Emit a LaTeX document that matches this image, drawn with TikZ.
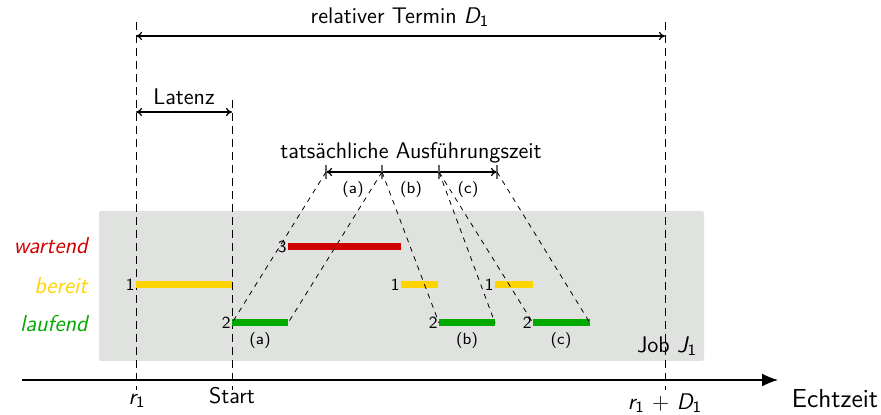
\documentclass[tikz,border=0pt]{standalone}
\usetikzlibrary{arrows.meta}
\definecolor{wred}{RGB}{208,0,0}
\definecolor{byellow}{RGB}{255,212,0}
\definecolor{lgreen}{RGB}{0,170,0}
\definecolor{boxgray}{RGB}{223,226,223}
\newcommand{\myidx}[2]{{\itshape #1}\textsubscript{#2}}
\begin{document}
\begin{tikzpicture}[x=0.5pt,y=-0.5pt,
  font=\sffamily\fontsize{11.3}{13}\selectfont,
  vdash/.style={dash pattern=on 4pt off 2.5pt, line width=0.5pt},
  ddash/.style={dash pattern=on 2.5pt off 2.5pt, line width=0.4pt},
  barline/.style={line width=3.5pt},
  small/.style={font=\sffamily\fontsize{8}{9}\selectfont},
  numlab/.style={font=\sffamily\fontsize{8.5}{9}\selectfont, anchor=east, inner sep=0.5pt},
  ticks/.style={black!60, line width=0.6pt},
  dim/.style={{To[length=3pt,width=4pt]}-{To[length=3pt,width=4pt]}, line width=0.6pt},
  state/.style={anchor=east, inner sep=0pt, font=\sffamily\itshape\fontsize{11.5}{13}\selectfont}]
\useasboundingbox (0,0) rectangle (881,415);
\fill[boxgray, rounded corners=1pt] (99,211) rectangle (704,361);

% key coordinates
\coordinate (r1top) at (136,22);
\coordinate (r1bot) at (136,390);
\coordinate (sttop) at (232,100);
\coordinate (stbot) at (232,390);
\coordinate (dtop) at (665,22);
\coordinate (dbot) at (665,390);
\coordinate (axL) at (22,380);
\coordinate (axR) at (778,380);

% vertical dashed lines
\draw[vdash] (r1top) -- (r1bot);
\draw[vdash] (sttop) -- (stbot);
\draw[vdash] (dtop) -- (dbot);

% time axis
\draw[line width=0.7pt, -{Latex[length=8pt,width=6.5pt]}] (axL) -- (axR);
\node (echt) at (835,399) {\fontsize{13}{15}\selectfont Echtzeit};
\node[anchor=north, inner sep=1pt] (lr1) at (137,392) {\myidx{r}{1}};
\node[anchor=north, inner sep=1pt] (lstart) at (232,385) {Start};
\node[anchor=north, inner sep=1pt] (lrd) at (665,391) {\myidx{r}{1} + \myidx{D}{1}};

% relativer Termin
\coordinate (tL) at (136,36);
\coordinate (tR) at (665,36);
\draw[dim] (tL) -- (tR);
\node (ltermin) at (400,17) {relativer Termin \myidx{D}{1}};

% Latenz
\coordinate (lL) at (136,112);
\coordinate (lR) at (232,112);
\draw[dim] (lL) -- (lR);
\node (llat) at (184,97) {Latenz};

% execution time
\coordinate (e0) at (326,172);
\coordinate (e1) at (382,172);
\coordinate (e2) at (439,172);
\coordinate (e3) at (497,172);
\draw[dim] (e0) -- (e3);
\foreach \p in {e0,e1,e2,e3} \draw[ticks] ([yshift=-3.5pt]\p) -- ([yshift=3.5pt]\p);
\node (lexec) at (411,153) {tatsächliche Ausführungszeit};
\node[small] (la) at (353,190) {(a)};
\node[small] (lb) at (411,190) {(b)};
\node[small] (lc) at (468,190) {(c)};

% state labels
\node[state, text=wred] (swart) at (88,246) {wartend};
\node[state, text=byellow] (sber) at (88,286) {bereit};
\node[state, text=lgreen] (slauf) at (88,324) {laufend};

% bars
\coordinate (y1a) at (136,285); \coordinate (y1b) at (232,285);
\coordinate (g1a) at (232,323); \coordinate (g1b) at (288,323);
\coordinate (r1a) at (288,247); \coordinate (r1b) at (401,247);
\coordinate (y2a) at (401,285); \coordinate (y2b) at (438,285);
\coordinate (g2a) at (439,323); \coordinate (g2b) at (495,323);
\coordinate (y3a) at (495,285); \coordinate (y3b) at (533,285);
\coordinate (g3a) at (533,323); \coordinate (g3b) at (590,323);

\draw[barline, byellow] (y1a) -- (y1b);
\draw[barline, lgreen] (g1a) -- (g1b);
\draw[barline, wred] (r1a) -- (r1b);
\draw[barline, byellow] (y2a) -- (y2b);
\draw[barline, lgreen] (g2a) -- (g2b);
\draw[barline, byellow] (y3a) -- (y3b);
\draw[barline, lgreen] (g3a) -- (g3b);

\node[numlab] (n1) at (y1a) {1};
\node[numlab] (n2) at (g1a) {2};
\node[numlab] (n3) at (r1a) {3};
\node[numlab] (n4) at (y2a) {1};
\node[numlab] (n5) at (g2a) {2};
\node[numlab] (n6) at (y3a) {1};
\node[numlab] (n7) at (g3a) {2};

\node[small] (ga) at (260,341) {(a)};
\node[small] (gb) at (467,341) {(b)};
\node[small] (gc) at (561,341) {(c)};

% dashed projections
\draw[ddash] (e0) -- (g1a);
\draw[ddash] (e1) -- (g1b);
\draw[ddash] (e1) -- (g2a);
\draw[ddash] (e2) -- (g2b);
\draw[ddash] (e2) -- (g3a);
\draw[ddash] (e3) -- (g3b);

\node (job) at (667,346) {Job \myidx{J}{1}};
\end{tikzpicture}
\end{document}
